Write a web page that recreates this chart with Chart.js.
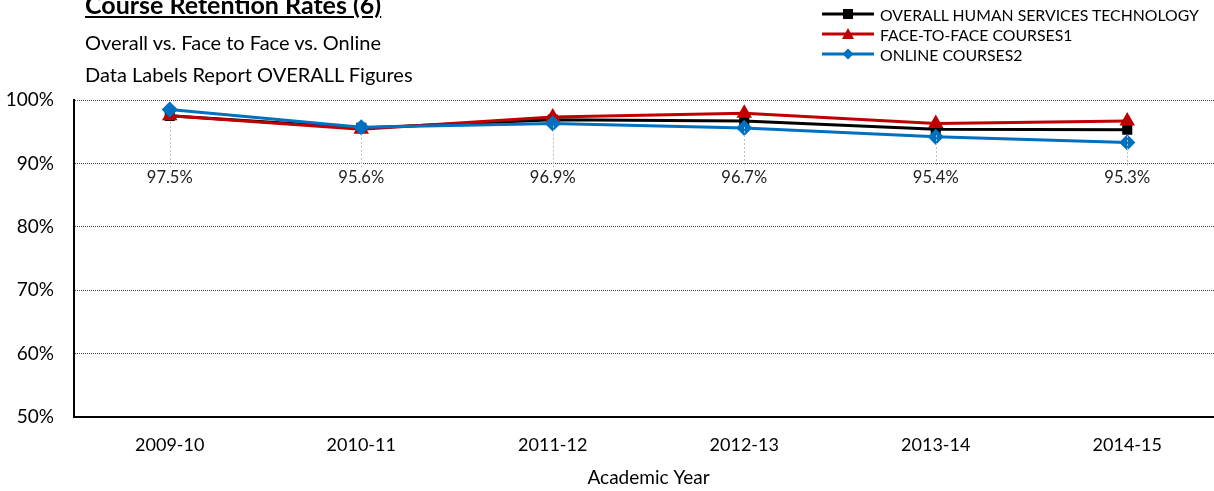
<!DOCTYPE html>
<html><head><meta charset="utf-8">
<script src="https://cdn.jsdelivr.net/npm/chart.js@4"></script>
<style>
html,body{margin:0;padding:0;background:#fff;overflow:hidden;width:1214px;height:491px;}
#wrap{position:relative;width:1232px;height:491px;}
canvas{position:absolute;left:0;top:0;}
.t{position:absolute;font-family:Lato,"Open Sans",sans-serif;color:#000;white-space:nowrap;}
#title{left:85px;top:-11px;font-size:25px;font-weight:bold;text-decoration:underline;}
#sub1{left:85px;top:30px;font-size:20px;}
#sub2{left:85px;top:62px;font-size:20px;}
.leg{position:absolute;left:822px;font-family:Lato,"Open Sans",sans-serif;font-size:15.8px;white-space:nowrap;display:flex;align-items:center;height:20px;}
.leg svg{margin-right:6px;}
</style></head>
<body>
<div id="wrap">
<canvas id="c" width="1232" height="491"></canvas>
<div class="t" id="title">Course Retention Rates (6)</div>
<div class="t" id="sub1">Overall vs. Face to Face vs. Online</div>
<div class="t" id="sub2">Data Labels Report OVERALL Figures</div>
<div id="legend"></div>
</div>
<script>
const categories = ['2009-10','2010-11','2011-12','2012-13','2013-14','2014-15'];
const overall = [0.975, 0.956, 0.969, 0.967, 0.954, 0.953];
const faceToFace = [0.975, 0.954, 0.973, 0.979, 0.963, 0.967];
const online = [0.985, 0.957, 0.963, 0.956, 0.942, 0.933];
const seriesNames = ['OVERALL HUMAN SERVICES TECHNOLOGY','FACE-TO-FACE COURSES1','ONLINE COURSES2'];
const yTicks = [0.5,0.6,0.7,0.8,0.9,1.0];

const colors = ['#000000','#C00000','#0070C0'];
const styles = ['rect','triangle','rectRot'];
const FONT = 'Lato, "Open Sans", sans-serif';

// HTML legend
const legEl = document.getElementById('legend');
const legMarks = [
  '<rect x="21" y="4" width="10" height="10" fill="#000"/>',
  '<polygon points="26,3 32,14 20,14" fill="#C00000"/>',
  '<polygon points="26,3.5 31.5,9 26,14.5 20.5,9" fill="#0070C0"/>'
];
seriesNames.forEach((n,i)=>{
  const d=document.createElement('div');
  d.className='leg';
  d.style.top=(4+i*20)+'px';
  d.innerHTML='<svg width="52" height="18"><line x1="0" y1="9" x2="52" y2="9" stroke="'+colors[i]+'" stroke-width="3"/>'+legMarks[i]+'</svg><span>'+n+'</span>';
  legEl.appendChild(d);
});

const labelPlugin = {
  id:'overallLabels',
  afterDatasetsDraw(chart){
    const ctx=chart.ctx;
    const meta=chart.getDatasetMeta(0);
    const ys=chart.scales.y;
    const lineEnd=ys.getPixelForValue(0.9)+4;
    const textY=ys.getPixelForValue(0.8775);
    ctx.save();
    meta.data.forEach((pt,i)=>{
      ctx.strokeStyle='#bfbfbf';
      ctx.lineWidth=1;
      ctx.setLineDash([2,2]);
      ctx.beginPath();
      ctx.moveTo(Math.round(pt.x)+0.5, pt.y+6);
      ctx.lineTo(Math.round(pt.x)+0.5, lineEnd);
      ctx.stroke();
      ctx.setLineDash([]);
      ctx.fillStyle='#222';
      ctx.font='16.5px ' + FONT;
      ctx.textAlign='center';
      ctx.textBaseline='middle';
      ctx.fillText((overall[i]*100).toFixed(1)+'%', pt.x, textY);
    });
    ctx.restore();
  }
};

new Chart(document.getElementById('c'),{
  type:'line',
  data:{
    labels:categories,
    datasets:[
      {label:seriesNames[0],data:overall,borderColor:colors[0],backgroundColor:colors[0],borderWidth:3,pointStyle:styles[0],pointRadius:5,pointHoverRadius:5,order:3,tension:0},
      {label:seriesNames[1],data:faceToFace,borderColor:colors[1],backgroundColor:colors[1],borderWidth:3,pointStyle:styles[1],pointRadius:6,pointHoverRadius:6,order:2,tension:0},
      {label:seriesNames[2],data:online,borderColor:colors[2],backgroundColor:colors[2],borderWidth:3,pointStyle:styles[2],pointRadius:6,pointHoverRadius:6,order:1,tension:0}
    ]
  },
  options:{
    responsive:false,
    animation:false,
    layout:{padding:{top:100,right:2,left:0,bottom:0}},
    plugins:{legend:{display:false},tooltip:{enabled:false}},
    scales:{
      x:{
        offset:true,
        grid:{display:false,drawTicks:false},
        border:{display:true,color:'#000',width:2},
        ticks:{color:'#000',font:{family:FONT,size:18},padding:17,maxRotation:0},
        title:{display:true,text:'Academic Year',color:'#000',font:{family:FONT,size:19},padding:{top:10,bottom:2}},
        afterFit(s){s.height=74;}
      },
      y:{
        min:0.5,max:1.0,
        afterBuildTicks(s){s.ticks=yTicks.map(v=>({value:v}));},
        grid:{color:'#404040',lineWidth:1,drawTicks:false},
        border:{display:true,color:'#000',width:2,dash:[1,1]},
        ticks:{color:'#000',font:{family:FONT,size:19},padding:20,callback:v=>Math.round(v*100)+'%'},
        afterFit(s){s.width=74;}
      }
    }
  },
  plugins:[labelPlugin]
});
</script>
</body></html>
